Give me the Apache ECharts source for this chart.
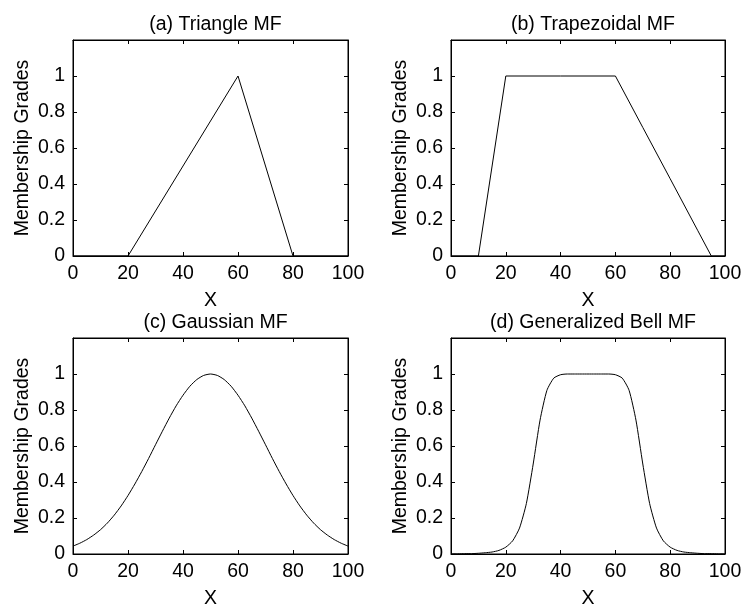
<!DOCTYPE html>
<html><head><meta charset="utf-8">
<script src="https://cdn.jsdelivr.net/npm/echarts@6/dist/echarts.min.js"></script>
<style>html,body{margin:0;padding:0;background:#fff}#c{width:746px;height:610px}</style>
</head><body><div id="c"></div>
<script>
// ---- data ----
const titles = ['(a) Triangle MF', '(b) Trapezoidal MF', '(c) Gaussian MF', '(d) Generalized Bell MF'];
const xName = 'X';
const yName = 'Membership Grades';
const xTicks = [0, 20, 40, 60, 80, 100];
const yTicks = [0, 0.2, 0.4, 0.6, 0.8, 1];

const triX = [0, 20, 30, 40, 50, 60, 70, 80, 100];
const triY = [0, 0, 0.25, 0.5, 0.75, 1, 0.5, 0, 0];

const trapX = [0, 10, 15, 20, 40, 60, 70, 80, 90, 95, 100];
const trapY = [0, 0, 0.5, 1, 1, 1, 0.714, 0.429, 0.143, 0, 0];

const gaussX = [0, 2.5, 5, 7.5, 10, 12.5, 15, 17.5, 20, 22.5, 25, 27.5, 30, 32.5, 35, 37.5, 40, 42.5, 45, 47.5, 50,
  52.5, 55, 57.5, 60, 62.5, 65, 67.5, 70, 72.5, 75, 77.5, 80, 82.5, 85, 87.5, 90, 92.5, 95, 97.5, 100];
const gaussY = [0.044, 0.060, 0.080, 0.105, 0.135, 0.172, 0.216, 0.267, 0.325, 0.389, 0.458, 0.531, 0.607, 0.682, 0.755, 0.823, 0.882, 0.932, 0.969, 0.992, 1,
  0.992, 0.969, 0.932, 0.882, 0.823, 0.755, 0.682, 0.607, 0.531, 0.458, 0.389, 0.325, 0.267, 0.216, 0.172, 0.135, 0.105, 0.080, 0.060, 0.044];

const bellX = gaussX;
const bellY = [0.001, 0.001, 0.002, 0.002, 0.004, 0.007, 0.011, 0.020, 0.038, 0.073, 0.144, 0.280, 0.5, 0.744, 0.909, 0.977, 0.996, 1.0, 1.0, 1.0, 1,
  1.0, 1.0, 1.0, 0.996, 0.977, 0.909, 0.744, 0.5, 0.280, 0.144, 0.073, 0.038, 0.020, 0.011, 0.007, 0.004, 0.002, 0.002, 0.001, 0.001];

const seriesX = [triX, trapX, gaussX, bellX];
const seriesY = [triY, trapY, gaussY, bellY];
const seriesSmooth = [false, false, 0.2, 0.2];

// ---- layout ----
const grids = [
  {left: 73, top: 40, width: 275, height: 216},
  {left: 451, top: 40, width: 274, height: 216},
  {left: 73, top: 338, width: 275, height: 217},
  {left: 451, top: 338, width: 274, height: 217}
];
const FONT = 'Liberation Sans, Arial, sans-serif';
const FS = 19.5;

const option = {
  animation: false,
  backgroundColor: '#fff',
  title: [], grid: [], xAxis: [], yAxis: [], series: []
};

grids.forEach((g, i) => {
  option.grid.push(Object.assign({show: true, borderColor: '#000', borderWidth: 1, backgroundColor: 'transparent', containLabel: false}, g));
  option.title.push({
    text: titles[i], left: g.left + g.width / 2, top: g.top - 30, textAlign: 'center',
    textStyle: {fontFamily: FONT, fontSize: FS, fontWeight: 'normal', color: '#000'}
  });
  const common = {
    gridIndex: i, type: 'value', splitLine: {show: false},
    axisLine: {show: true, onZero: false, lineStyle: {color: '#000', width: 1}},
    axisTick: {show: true, inside: true, length: 4, lineStyle: {color: '#000', width: 1}}
  };
  option.xAxis.push(Object.assign({}, common, {
    position: 'bottom', min: 0, max: 100, interval: 20,
    name: xName, nameLocation: 'middle', nameGap: 35,
    nameTextStyle: {fontFamily: FONT, fontSize: FS, color: '#000'},
    axisLabel: {show: true, margin: 8, fontFamily: FONT, fontSize: FS, color: '#000',
      formatter: v => xTicks.indexOf(v) >= 0 ? String(v) : ''}
  }));
  option.xAxis.push(Object.assign({}, common, {
    position: 'top', min: 0, max: 100, interval: 20, axisLabel: {show: false}
  }));
  option.yAxis.push(Object.assign({}, common, {
    position: 'left', min: 0, max: 1.2, interval: 0.2,
    name: yName, nameLocation: 'middle', nameGap: 40, nameRotate: 90,
    nameTextStyle: {fontFamily: FONT, fontSize: FS, color: '#000'},
    axisLabel: {show: true, margin: 8, fontFamily: FONT, fontSize: FS, color: '#000',
      formatter: v => {
        const r = Math.round(v * 10) / 10;
        return yTicks.indexOf(r) >= 0 ? String(r) : '';
      }}
  }));
  option.yAxis.push(Object.assign({}, common, {
    position: 'right', min: 0, max: 1.2, interval: 0.2, axisLabel: {show: false}
  }));
  option.series.push({
    type: 'line', xAxisIndex: i * 2, yAxisIndex: i * 2,
    data: seriesX[i].map((x, k) => [x, seriesY[i][k]]),
    showSymbol: false, symbol: 'none', clip: true,
    smooth: seriesSmooth[i],
    lineStyle: {color: '#000', width: 1}
  });
});

const chart = echarts.init(document.getElementById('c'), null, {renderer: 'canvas'});
chart.setOption(option);
</script>
</body></html>
